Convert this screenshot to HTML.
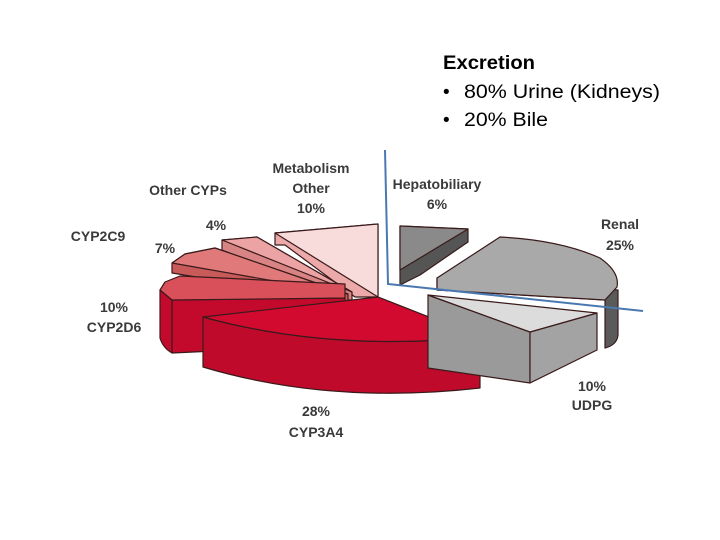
<!DOCTYPE html>
<html><head><meta charset="utf-8"><style>
html,body{margin:0;padding:0;background:#fff;}
svg{display:block}
.l{font-family:"Liberation Sans",sans-serif;font-weight:bold;font-size:14px;fill:#3a3a3a;text-anchor:middle}
.e{font-family:"Liberation Sans",sans-serif;font-size:19px;fill:#000}
</style></head><body>
<svg width="720" height="540" viewBox="0 0 720 540" xmlns="http://www.w3.org/2000/svg">
<g stroke="#3a1a1a" stroke-width="1.2" stroke-linejoin="round">
<!-- Metabolism other -->
<polygon points="275,233 378,224 378,297 355,297 285,245 275,245" fill="#eca9a9"/>
<polygon points="275,233 378,224 378,297" fill="#f7dcdb"/>
<!-- Other CYPs -->
<polygon points="222,240 257,237 352,292 352,300 345,300 222,250" fill="#d98484"/>
<polygon points="222,240 257,237 352,292" fill="#eba3a3"/>
<!-- CYP2C9 -->
<polygon points="172,263 185,254 215,248 348,294 348,302 172,273" fill="#c85a5a"/>
<polygon points="172,263 185,254 215,248 348,294" fill="#e07a7a"/>
<!-- CYP2D6 -->
<path d="M160,290 L160,338 Q163,348 172,353 L172,300 Z" fill="#c40a2c"/>
<polygon points="172,300 345,298 345,345 172,353" fill="#c40a2c"/>
<polygon points="160,290 165,282 180,276 345,284 345,298 172,300" fill="#d9505a"/>
<!-- CYP3A4 -->
<path d="M203,317 Q330,352 480,337 L480,388 Q330,405 203,367 Z" fill="#c00a2c"/>
<path d="M203,317 L378,297 L480,337 Q330,352 203,317 Z" fill="#d20a30"/>
<!-- Hepatobiliary -->
<polygon points="400,226 468,229 468,242 420,275 400,285 400,270" fill="#555"/>
<polygon points="400,226 468,229 400,270" fill="#8a8a8a"/>
<!-- Renal -->
<path d="M437,278 L437,290 L605,300 L605,348 Q617,345 618,335 L618,290 Z" fill="#5a5a5a"/>
<path d="M437,278 L500,237 Q560,240 600,258 Q620,272 617,287 L605,300 L437,290 Z" fill="#a9a9a9"/>
<!-- UDPG -->
<polygon points="428,295 530,332 530,383 428,368" fill="#9a9a9a"/>
<polygon points="530,332 597,313 597,350 530,383" fill="#a3a3a3"/>
<polygon points="428,295 597,313 530,332" fill="#dcdcdc"/>
</g>
<polyline points="385,150 388,284 643,311" fill="none" stroke="#4a78b0" stroke-width="2"/>
<g class="l">
<text x="311" y="173">Metabolism</text>
<text x="311" y="193">Other</text>
<text x="311" y="213">10%</text>
<text x="188" y="195">Other CYPs</text>
<text x="216" y="230">4%</text>
<text x="98" y="241">CYP2C9</text>
<text x="165" y="253">7%</text>
<text x="114" y="312">10%</text>
<text x="114" y="332">CYP2D6</text>
<text x="316" y="416">28%</text>
<text x="316" y="437">CYP3A4</text>
<text x="437" y="189">Hepatobiliary</text>
<text x="437" y="209">6%</text>
<text x="620" y="229">Renal</text>
<text x="620" y="250">25%</text>
<text x="592" y="391">10%</text>
<text x="592" y="410">UDPG</text>
</g>
<text class="e" x="443" y="69" font-weight="bold" textLength="92" lengthAdjust="spacingAndGlyphs">Excretion</text>
<text class="e" x="443" y="98">•</text>
<text class="e" x="464" y="98" textLength="196" lengthAdjust="spacingAndGlyphs">80% Urine (Kidneys)</text>
<text class="e" x="443" y="126">•</text>
<text class="e" x="464" y="126" textLength="84" lengthAdjust="spacingAndGlyphs">20% Bile</text>
</svg>
</body></html>
